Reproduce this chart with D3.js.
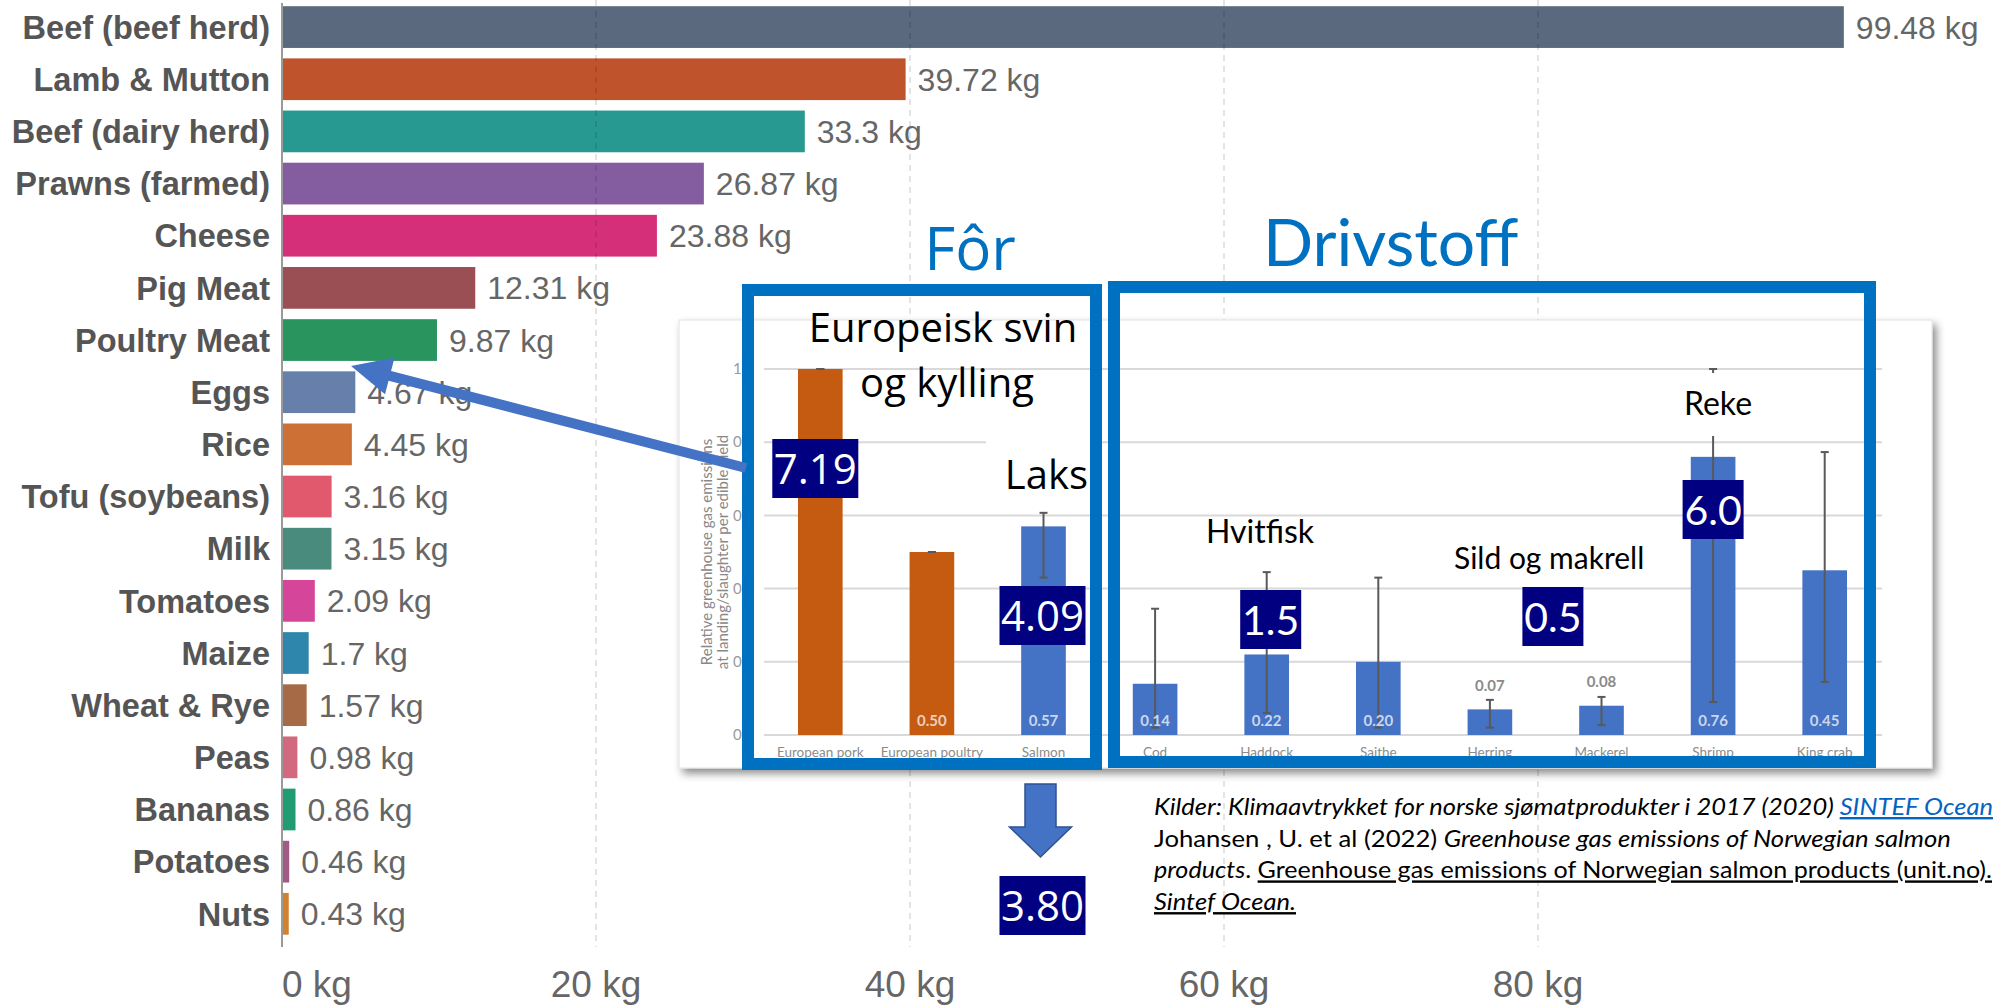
<!DOCTYPE html>
<html>
<head>
<meta charset="utf-8">
<script src="https://cdn.jsdelivr.net/npm/d3@7"></script>
<style>
  html, body { margin: 0; padding: 0; background: #ffffff; }
  svg { display: block; }
</style>
</head>
<body>
<svg id="chart" width="2006" height="1008"></svg>
<script>
// ---------------- DATA ----------------
const categories = ["Beef (beef herd)", "Lamb & Mutton", "Beef (dairy herd)", "Prawns (farmed)", "Cheese",
  "Pig Meat", "Poultry Meat", "Eggs", "Rice", "Tofu (soybeans)", "Milk", "Tomatoes", "Maize",
  "Wheat & Rye", "Peas", "Bananas", "Potatoes", "Nuts"];
const values = [99.48, 39.72, 33.3, 26.87, 23.88, 12.31, 9.87, 4.67, 4.45, 3.16, 3.15, 2.09, 1.7, 1.57, 0.98, 0.86, 0.46, 0.43];
const barColors = ["#5a697e", "#be532c", "#279990", "#845ca0", "#d62f79", "#9a4f55", "#29945e", "#6780ab",
  "#cd7035", "#e0596d", "#498b7d", "#d5459a", "#2e86ad", "#a66a47", "#d3697f", "#219c72", "#a05a85", "#d2812f"];
const xTicks = [0, 20, 40, 60, 80];

const insetCategories = ["European pork", "European poultry", "Salmon", "Cod", "Haddock", "Saithe",
  "Herring", "Mackerel", "Shrimp", "King crab"];
const insetValues = [1.00, 0.50, 0.57, 0.14, 0.22, 0.20, 0.07, 0.08, 0.76, 0.45];
const insetErrLow = [1.00, 0.50, 0.43, 0.02, 0.06, 0.02, 0.02, 0.027, 0.09, 0.145];
const insetErrHigh = [1.00, 0.50, 0.607, 0.345, 0.445, 0.43, 0.096, 0.104, 1.00, 0.773];
const insetLabels = ["", "0.50", "0.57", "0.14", "0.22", "0.20", "0.07", "0.08", "0.76", "0.45"];
const insetColors = ["#c55a11", "#c55a11", "#4472c4", "#4472c4", "#4472c4", "#4472c4", "#4472c4", "#4472c4", "#4472c4", "#4472c4"];
const insetYTicks = [0, 0.2, 0.4, 0.6, 0.8, 1];

const calloutValues = ["7.19", "4.09", "1.5", "0.5", "6.0", "3.80"];

// ---------------- SETUP ----------------
const svg = d3.select("#chart");
const defs = svg.append("defs");
const f = defs.append("filter").attr("id", "shadow").attr("x", "-5%").attr("y", "-5%").attr("width", "112%").attr("height", "115%");
f.append("feDropShadow").attr("dx", 4).attr("dy", 5).attr("stdDeviation", 4).attr("flood-color", "#000").attr("flood-opacity", 0.45);

const SANS = "'Liberation Sans', Arial, sans-serif";

// ---------------- MAIN CHART ----------------
const x = d3.scaleLinear().domain([0, 100]).range([282, 1852]);
const y = d3.scaleBand().domain(categories).range([1, 939.9]).paddingInner(0.2).paddingOuter(0.1);

const main = svg.append("g");

main.selectAll("rect.bar").data(categories).enter().append("rect")
  .attr("class", "bar")
  .attr("x", x(0))
  .attr("y", d => y(d))
  .attr("width", (d, i) => x(values[i]) - x(0))
  .attr("height", y.bandwidth())
  .attr("fill", (d, i) => barColors[i]);

// gridlines (drawn semi-transparent over bars)
main.selectAll("line.grid").data(xTicks.filter(t => t > 0)).enter().append("line")
  .attr("x1", d => x(d)).attr("x2", d => x(d))
  .attr("y1", 0).attr("y2", 947)
  .attr("stroke", "rgba(0,0,0,0.14)").attr("stroke-width", 1.5).attr("stroke-dasharray", "6,5");

// axis line
main.append("line").attr("x1", x(0)).attr("x2", x(0)).attr("y1", 3).attr("y2", 947)
  .attr("stroke", "#9a9a9a").attr("stroke-width", 2);

// category labels
main.selectAll("text.cat").data(categories).enter().append("text")
  .attr("x", 270).attr("y", d => y(d) + y.bandwidth() / 2).attr("dy", "0.36em")
  .attr("text-anchor", "end").attr("font-family", SANS).attr("font-weight", "bold")
  .attr("font-size", 32.5).attr("fill", "#555").text(d => d);

// value labels
main.selectAll("text.val").data(categories).enter().append("text")
  .attr("x", (d, i) => x(values[i]) + 12).attr("y", d => y(d) + y.bandwidth() / 2).attr("dy", "0.36em")
  .attr("font-family", SANS).attr("font-size", 32).attr("fill", "#666")
  .text((d, i) => values[i] + " kg");

// x tick labels
main.selectAll("text.tick").data(xTicks).enter().append("text")
  .attr("x", d => x(d)).attr("y", 997)
  .attr("text-anchor", d => d === 0 ? "start" : "middle")
  .attr("font-family", SANS).attr("font-size", 37).attr("fill", "#666")
  .text(d => d + " kg");

// ---------------- INSET (pasted chart) ----------------
const xi = d3.scaleBand().domain(insetCategories).range([764.5, 1880.5]).paddingInner(0.6).paddingOuter(0.3);
const yi = d3.scaleLinear().domain([0, 1]).range([735, 369]);
const inset = svg.append("g");
const INSET_FONT = "Lato, 'Open Sans', sans-serif";

inset.append("rect").attr("x", 679).attr("y", 320).attr("width", 1253).attr("height", 448)
  .attr("fill", "#fff").attr("stroke", "#e2e2e2").attr("stroke-width", 1).attr("filter", "url(#shadow)");

inset.selectAll("line.ig").data(insetYTicks).enter().append("line")
  .attr("x1", 764).attr("x2", 1882).attr("y1", d => yi(d)).attr("y2", d => yi(d))
  .attr("stroke", "#d9d9d9").attr("stroke-width", 2);

inset.selectAll("text.iy").data(insetYTicks).enter().append("text")
  .attr("x", 733).attr("y", d => yi(d)).attr("dy", "0.35em")
  .attr("font-family", INSET_FONT).attr("font-size", 15).attr("fill", "#9a9a9a")
  .text(d => d3.format("~g")(d));

const ytitle = inset.append("text").attr("font-family", INSET_FONT).attr("font-size", 15).attr("fill", "#888")
  .attr("text-anchor", "middle");
ytitle.append("tspan").attr("x", 0).attr("y", 0).text("Relative greenhouse gas emissions");
ytitle.append("tspan").attr("x", 0).attr("y", 16).text("at landing/slaughter per edible yield");
ytitle.attr("transform", "translate(712,552) rotate(-90)");

inset.selectAll("rect.ib").data(insetCategories).enter().append("rect")
  .attr("x", d => xi(d)).attr("width", xi.bandwidth())
  .attr("y", (d, i) => yi(insetValues[i])).attr("height", (d, i) => yi(0) - yi(insetValues[i]))
  .attr("fill", (d, i) => insetColors[i]);

// error bars
const eb = inset.selectAll("g.eb").data(insetCategories).enter().append("g");
eb.append("line").attr("x1", d => xi(d) + xi.bandwidth() / 2).attr("x2", d => xi(d) + xi.bandwidth() / 2)
  .attr("y1", (d, i) => yi(insetErrLow[i])).attr("y2", (d, i) => yi(insetErrHigh[i]))
  .attr("stroke", "#595959").attr("stroke-width", 2);
eb.append("line").attr("x1", d => xi(d) + xi.bandwidth() / 2 - 4).attr("x2", d => xi(d) + xi.bandwidth() / 2 + 4)
  .attr("y1", (d, i) => yi(insetErrHigh[i])).attr("y2", (d, i) => yi(insetErrHigh[i]))
  .attr("stroke", "#595959").attr("stroke-width", 2);
eb.append("line").attr("x1", d => xi(d) + xi.bandwidth() / 2 - 4).attr("x2", d => xi(d) + xi.bandwidth() / 2 + 4)
  .attr("y1", (d, i) => yi(insetErrLow[i])).attr("y2", (d, i) => yi(insetErrLow[i]))
  .attr("stroke", "#595959").attr("stroke-width", 2);

// bar value labels
inset.selectAll("text.il").data(insetCategories).enter().append("text")
  .attr("x", d => xi(d) + xi.bandwidth() / 2)
  .attr("y", (d, i) => insetValues[i] < 0.1 ? yi(insetValues[i]) - 24 : 721)
  .attr("dy", "0.35em").attr("text-anchor", "middle")
  .attr("font-family", INSET_FONT).attr("font-weight", "bold").attr("font-size", 15)
  .attr("fill", (d, i) => insetValues[i] < 0.1 ? "#8a8a8a" : "rgba(255,255,255,0.72)")
  .text((d, i) => insetLabels[i]);

// category labels
inset.selectAll("text.ic").data(insetCategories).enter().append("text")
  .attr("x", d => xi(d) + xi.bandwidth() / 2).attr("y", 752).attr("dy", "0.35em")
  .attr("text-anchor", "middle").attr("font-family", INSET_FONT).attr("font-size", 13.5).attr("fill", "#8c8c8c")
  .text(d => d);

// white text-box backgrounds (cover gridline / error line like the slide)
inset.append("rect").attr("x", 986).attr("y", 439).attr("width", 104).attr("height", 64).attr("fill", "#fff");
inset.append("rect").attr("x", 1668).attr("y", 373).attr("width", 100).attr("height", 63).attr("fill", "#fff");

// ---------------- FRAMES ----------------
const BLUE = "#0070c0";
svg.append("rect").attr("x", 748).attr("y", 290).attr("width", 348).attr("height", 474)
  .attr("fill", "none").attr("stroke", BLUE).attr("stroke-width", 12);
svg.append("rect").attr("x", 1114).attr("y", 287).attr("width", 756).attr("height", 475)
  .attr("fill", "none").attr("stroke", BLUE).attr("stroke-width", 12);

// ---------------- TEXT ANNOTATIONS ----------------
const OPEN = "'Open Sans', 'Noto Sans', sans-serif";
const LATO = "Lato, sans-serif";
function label(t, xx, yy, font, size, fill, anchor) {
  svg.append("text").attr("x", xx).attr("y", yy).attr("font-family", font).attr("font-size", size)
    .attr("fill", fill).attr("text-anchor", anchor || "start").text(t);
}
label("Fôr", 970, 270, OPEN, 60, BLUE, "middle");
label("Drivstoff", 1263, 266, LATO, 66, BLUE, "start");
label("Europeisk svin", 943, 342, OPEN, 40, "#000", "middle");
label("og kylling", 947, 397, OPEN, 40, "#000", "middle");
label("Laks", 1088, 489, OPEN, 40, "#000", "end");
label("Hvitfisk", 1260, 543, LATO, 32, "#000", "middle");
label("Sild og makrell", 1454, 569, LATO, 30, "#000", "start");
label("Reke", 1718, 415, LATO, 32, "#000", "middle");

// navy value callouts, anchored on inset bars
const calloutLayout = [
  { cat: "European pork", dx: -5, top: 439, w: 86, font: OPEN, size: 42 },
  { cat: "Salmon", dx: -1, top: 586, w: 86, font: OPEN, size: 42 },
  { cat: "Haddock", dx: 4, top: 590, w: 61, font: LATO, size: 41 },
  { cat: "Herring", dx: 63, top: 587, w: 61, font: LATO, size: 41 },
  { cat: "Shrimp", dx: 0, top: 480, w: 61, font: LATO, size: 41 },
  { cat: "Salmon", dx: -1, top: 876, w: 86, font: OPEN, size: 42 }
];
calloutValues.forEach((v, i) => {
  const L = calloutLayout[i];
  const cx = xi(L.cat) + xi.bandwidth() / 2 + L.dx;
  svg.append("rect").attr("x", cx - L.w / 2).attr("y", L.top).attr("width", L.w).attr("height", 59).attr("fill", "#000080");
  svg.append("text").attr("x", cx).attr("y", L.top + 45).attr("text-anchor", "middle")
    .attr("font-family", L.font).attr("font-size", L.size).attr("fill", "#fff").text(v);
});

// ---------------- ARROWS ----------------
const tip = [x(4.4), y("Poultry Meat") + y.bandwidth() + 5];
const tail = [746, 468];
const dxA = tail[0] - tip[0], dyA = tail[1] - tip[1];
const len = Math.hypot(dxA, dyA), ux = dxA / len, uy = dyA / len;
const headL = 40, headW = 19;
const base = [tip[0] + ux * headL, tip[1] + uy * headL];
svg.append("line").attr("x1", base[0] - ux * 2).attr("y1", base[1] - uy * 2).attr("x2", tail[0]).attr("y2", tail[1])
  .attr("stroke", "#4472c4").attr("stroke-width", 10);
svg.append("path")
  .attr("d", `M${tip[0]},${tip[1]} L${base[0] - uy * headW},${base[1] + ux * headW} L${base[0] + uy * headW},${base[1] - ux * headW} Z`)
  .attr("fill", "#4472c4");

// block arrow down
const ax = xi("Salmon") + xi.bandwidth() / 2 - 3;
svg.append("path")
  .attr("d", `M${ax - 15.5},784 L${ax + 15.5},784 L${ax + 15.5},827 L${ax + 31},827 L${ax},857 L${ax - 31},827 L${ax - 15.5},827 Z`)
  .attr("fill", "#4472c4").attr("stroke", "#2f528f").attr("stroke-width", 1.5);

// ---------------- SOURCE TEXT ----------------
const srcLines = [
  { w: 839, parts: [
    { t: "Kilder: Klimaavtrykket for norske sjømatprodukter i 2017 (2020) ", it: true },
    { t: "SINTEF Ocean", it: true, u: true, c: "#0563c1" }] },
  { w: 797, parts: [
    { t: "Johansen , U. et al (2022) " },
    { t: "Greenhouse gas emissions of Norwegian salmon", it: true }] },
  { w: 838, parts: [
    { t: "products", it: true },
    { t: ". " },
    { t: "Greenhouse gas emissions of Norwegian salmon products (unit.no).", u: true }] },
  { w: 142, parts: [
    { t: "Sintef Ocean.", it: true, u: true }] }
];
srcLines.forEach((ln, i) => {
  const t = svg.append("text").attr("x", 1154).attr("y", 815 + i * 31.7)
    .attr("font-family", LATO).attr("font-size", 24).attr("fill", "#000")
    .attr("textLength", ln.w).attr("lengthAdjust", "spacingAndGlyphs");
  ln.parts.forEach(p => {
    const s = t.append("tspan").text(p.t);
    if (p.it) s.attr("font-style", "italic");
    if (p.u) s.attr("text-decoration", "underline");
    if (p.c) s.attr("fill", p.c);
  });
});
</script>
</body>
</html>
